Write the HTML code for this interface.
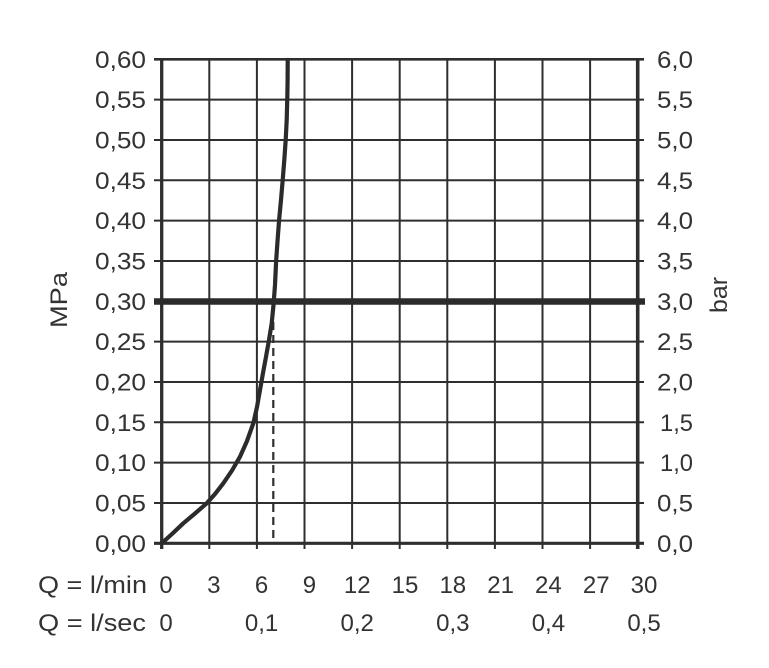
<!DOCTYPE html>
<html>
<head>
<meta charset="utf-8">
<style>
  html, body { margin: 0; padding: 0; background: #ffffff; }
  svg { display: block; }
  text { font-family: "Liberation Sans", "DejaVu Sans", sans-serif; fill: #333333; font-size: 24px; }
</style>
</head>
<body>
<svg width="769" height="668" viewBox="0 0 769 668" xmlns="http://www.w3.org/2000/svg">
  <rect x="0" y="0" width="769" height="668" fill="#ffffff"/>

  <!-- vertical grid lines -->
  <g stroke="#2e2e2e" stroke-width="2">
    <line x1="209.3" y1="59.3" x2="209.3" y2="549"/>
    <line x1="256.9" y1="59.3" x2="256.9" y2="549"/>
    <line x1="304.5" y1="59.3" x2="304.5" y2="549"/>
    <line x1="352.1" y1="59.3" x2="352.1" y2="549"/>
    <line x1="399.7" y1="59.3" x2="399.7" y2="549"/>
    <line x1="447.3" y1="59.3" x2="447.3" y2="549"/>
    <line x1="494.9" y1="59.3" x2="494.9" y2="549"/>
    <line x1="542.5" y1="59.3" x2="542.5" y2="549"/>
    <line x1="590.1" y1="59.3" x2="590.1" y2="549"/>
  </g>

  <!-- horizontal grid lines (with ticks on both sides) -->
  <g stroke="#2e2e2e" stroke-width="2">
    <line x1="154" y1="99.6" x2="644" y2="99.6"/>
    <line x1="154" y1="140" x2="644" y2="140"/>
    <line x1="154" y1="180.3" x2="644" y2="180.3"/>
    <line x1="154" y1="220.6" x2="644" y2="220.6"/>
    <line x1="154" y1="261" x2="644" y2="261"/>
    <line x1="154" y1="341.6" x2="644" y2="341.6"/>
    <line x1="154" y1="382" x2="644" y2="382"/>
    <line x1="154" y1="422.3" x2="644" y2="422.3"/>
    <line x1="154" y1="462.6" x2="644" y2="462.6"/>
    <line x1="154" y1="503" x2="644" y2="503"/>
  </g>

  <!-- top line -->
  <line x1="154" y1="59.3" x2="644" y2="59.3" stroke="#2e2e2e" stroke-width="2.6"/>
  <!-- bottom axis -->
  <line x1="154" y1="543.3" x2="644" y2="543.3" stroke="#2e2e2e" stroke-width="3.2"/>
  <!-- left axis -->
  <line x1="161.7" y1="58" x2="161.7" y2="549" stroke="#2e2e2e" stroke-width="3.3"/>
  <!-- right axis -->
  <line x1="637.7" y1="58" x2="637.7" y2="549" stroke="#2e2e2e" stroke-width="3.6"/>

  <!-- thick 0.30 line -->
  <line x1="154" y1="301.5" x2="645" y2="301.5" stroke="#2b2b2b" stroke-width="6.5"/>

  <!-- dashed vertical -->
  <line x1="273.3" y1="322" x2="273.3" y2="543" stroke="#2e2e2e" stroke-width="2.2" stroke-dasharray="8,5"/>

  <!-- curve -->
  <polyline fill="none" stroke="#2b2b2b" stroke-width="4.2" stroke-linejoin="round" stroke-linecap="round"
    points="161.7,543.3 172,534 183.3,523.3 195,513.5 206.7,503.3 215,494 223.3,483.3 232,470.5 240,456.7 247,441 253.3,423.3 257,407 260,390 263,373 266,356.7 269,340 271.7,323.3 273.5,305 275,285 276.2,260 277.6,240 279.1,220 281,200 282.7,180 284.3,160 285.7,140 286.7,120 287.3,98 287.6,80 287.7,60"/>

  <!-- left labels -->
  <g text-anchor="end">
    <text x="146" y="67.8" textLength="51" lengthAdjust="spacingAndGlyphs">0,60</text>
    <text x="146" y="108.1" textLength="51" lengthAdjust="spacingAndGlyphs">0,55</text>
    <text x="146" y="148.5" textLength="51" lengthAdjust="spacingAndGlyphs">0,50</text>
    <text x="146" y="188.8" textLength="51" lengthAdjust="spacingAndGlyphs">0,45</text>
    <text x="146" y="229.1" textLength="51" lengthAdjust="spacingAndGlyphs">0,40</text>
    <text x="146" y="269.5" textLength="51" lengthAdjust="spacingAndGlyphs">0,35</text>
    <text x="146" y="309.8" textLength="51" lengthAdjust="spacingAndGlyphs">0,30</text>
    <text x="146" y="350.1" textLength="51" lengthAdjust="spacingAndGlyphs">0,25</text>
    <text x="146" y="390.5" textLength="51" lengthAdjust="spacingAndGlyphs">0,20</text>
    <text x="146" y="430.8" textLength="51" lengthAdjust="spacingAndGlyphs">0,15</text>
    <text x="146" y="471.1" textLength="51" lengthAdjust="spacingAndGlyphs">0,10</text>
    <text x="146" y="511.5" textLength="51" lengthAdjust="spacingAndGlyphs">0,05</text>
    <text x="146" y="551.8" textLength="51" lengthAdjust="spacingAndGlyphs">0,00</text>
  </g>

  <!-- right labels -->
  <g>
    <text x="657" y="67.8" textLength="36" lengthAdjust="spacingAndGlyphs">6,0</text>
    <text x="657" y="108.1" textLength="36" lengthAdjust="spacingAndGlyphs">5,5</text>
    <text x="657" y="148.5" textLength="36" lengthAdjust="spacingAndGlyphs">5,0</text>
    <text x="657" y="188.8" textLength="36" lengthAdjust="spacingAndGlyphs">4,5</text>
    <text x="657" y="229.1" textLength="36" lengthAdjust="spacingAndGlyphs">4,0</text>
    <text x="657" y="269.5" textLength="36" lengthAdjust="spacingAndGlyphs">3,5</text>
    <text x="657" y="309.8" textLength="36" lengthAdjust="spacingAndGlyphs">3,0</text>
    <text x="657" y="350.1" textLength="36" lengthAdjust="spacingAndGlyphs">2,5</text>
    <text x="657" y="390.5" textLength="36" lengthAdjust="spacingAndGlyphs">2,0</text>
    <text x="660" y="430.8" textLength="33" lengthAdjust="spacingAndGlyphs">1,5</text>
    <text x="660" y="471.1" textLength="33" lengthAdjust="spacingAndGlyphs">1,0</text>
    <text x="657" y="511.5" textLength="36" lengthAdjust="spacingAndGlyphs">0,5</text>
    <text x="657" y="551.8" textLength="36" lengthAdjust="spacingAndGlyphs">0,0</text>
  </g>

  <!-- axis titles -->
  <text transform="translate(67,300) rotate(-90)" text-anchor="middle" textLength="56" lengthAdjust="spacingAndGlyphs">MPa</text>
  <text transform="translate(727,295) rotate(-90)" text-anchor="middle" textLength="36" lengthAdjust="spacingAndGlyphs">bar</text>

  <!-- bottom row 1 -->
  <text x="38" y="593" textLength="109" lengthAdjust="spacingAndGlyphs">Q = l/min</text>
  <g text-anchor="middle">
    <text x="166" y="593">0</text>
    <text x="213.8" y="593">3</text>
    <text x="261.6" y="593">6</text>
    <text x="309.4" y="593">9</text>
    <text x="357.2" y="593">12</text>
    <text x="405" y="593">15</text>
    <text x="452.8" y="593">18</text>
    <text x="500.6" y="593">21</text>
    <text x="548.4" y="593">24</text>
    <text x="596.2" y="593">27</text>
    <text x="644" y="593">30</text>
  </g>

  <!-- bottom row 2 -->
  <text x="38" y="631" textLength="108" lengthAdjust="spacingAndGlyphs">Q = l/sec</text>
  <g text-anchor="middle">
    <text x="166" y="631">0</text>
    <text x="261.6" y="631">0,1</text>
    <text x="357.2" y="631">0,2</text>
    <text x="452.8" y="631">0,3</text>
    <text x="548.4" y="631">0,4</text>
    <text x="644" y="631">0,5</text>
  </g>
</svg>
</body>
</html>
